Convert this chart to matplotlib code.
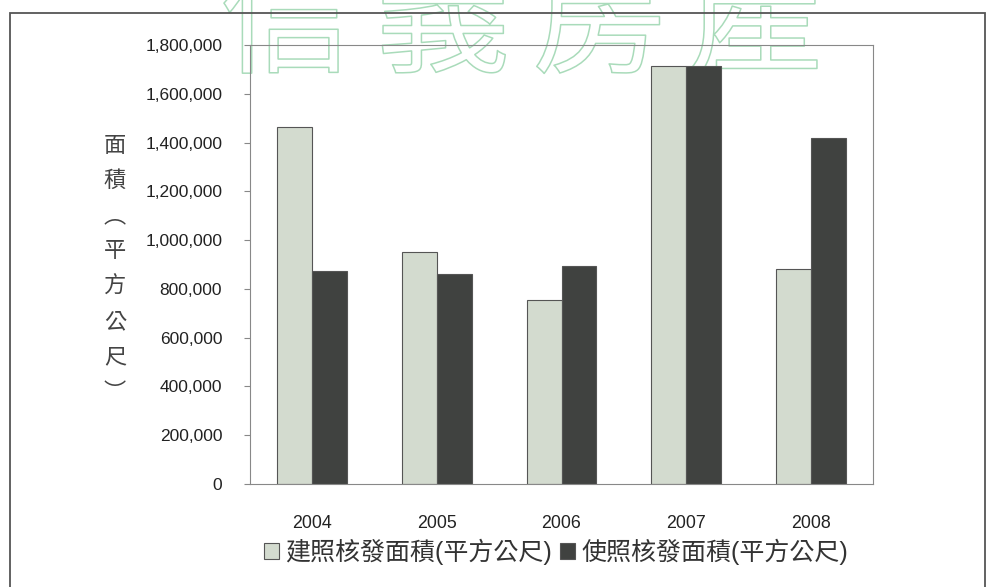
import numpy as np
import matplotlib
matplotlib.use('Agg')
import matplotlib.pyplot as plt
import matplotlib.patheffects as pe
from matplotlib.patches import Rectangle, Patch
from matplotlib.ticker import FuncFormatter

# Data
years = ['2004', '2005', '2006', '2007', '2008']
build_area = [1465000, 950000, 755000, 1715000, 880000]   # 建照核發面積
use_area = [875000, 862000, 895000, 1715000, 1418000]     # 使照核發面積
series_names = ['建照核發面積(平方公尺)', '使照核發面積(平方公尺)']
ylabel_chars = ['面', '積', '︵', '平', '方', '公', '尺', '︶']
watermark = '信義房產'
yticks = np.arange(0, 1800001, 200000)

LIGHT = '#d3dbcf'
DARK = '#404240'
EDGE = '#555555'

plt.rcParams['font.family'] = ['Liberation Sans', 'Noto Sans CJK TC', 'DejaVu Sans']

fig = plt.figure(figsize=(9.89, 5.87), dpi=100)
ax = fig.add_axes([250 / 989, 103 / 587, 623 / 989, 439 / 587])
ax.set_facecolor('none')

x = np.arange(len(years))
w = 0.28
ax.bar(x - w / 2, build_area, width=w, color=LIGHT, edgecolor=EDGE, linewidth=0.8)
ax.bar(x + w / 2, use_area, width=w, color=DARK, edgecolor=EDGE, linewidth=0.8)

ax.set_xlim(-0.5, len(years) - 0.5)
ax.set_ylim(0, 1800000)
ax.set_yticks(yticks)
ax.yaxis.set_major_formatter(FuncFormatter(lambda v, p: f'{int(v):,}'))
ax.set_xticks(x)
ax.set_xticklabels(years)
ax.tick_params(axis='y', length=4, width=0.8, color='#888888', pad=16,
               labelsize=12.5, labelcolor='#222222')
ax.tick_params(axis='x', length=0, pad=22, labelsize=12.8, labelcolor='#222222')
for s in ax.spines.values():
    s.set_color('#888888')
    s.set_linewidth(0.8)

# vertical y-axis label, one character per line
for i, ch in enumerate(ylabel_chars):
    fig.text(115 / 989, 1 - (145 + i * 35.3) / 587, ch, ha='center', va='center',
             fontsize=16, color='#444444', family='Noto Sans CJK TC')

# legend
handles = [Patch(facecolor=LIGHT, edgecolor=EDGE, linewidth=0.8),
           Patch(facecolor=DARK, edgecolor=EDGE, linewidth=0.8)]
fig.legend(handles, series_names, loc='center', bbox_to_anchor=(556 / 989, 1 - 552 / 587),
           ncol=2, frameon=False, fontsize=18, handlelength=0.6, handleheight=0.6,
           handletextpad=0.25, columnspacing=0.3, labelcolor='#333333')

# outer frame
fig.patches.append(Rectangle((10 / 989, -0.01), 975 / 989, 1 - 13 / 587 + 0.01,
                             transform=fig.transFigure, fill=False,
                             edgecolor='#555555', linewidth=1.3))

# watermark, drawn under the chart lines (cut at the top edge as in the scan)
for i, ch in enumerate(watermark):
    fig.text((287 + i * 156) / 989, 1 - 24 / 587, ch, ha='center', va='center',
             fontsize=97, color='none', family='Noto Sans CJK TC', zorder=-1,
             path_effects=[pe.withStroke(linewidth=1.1, foreground='#a9dbba')])

fig.savefig('out.png', dpi=100)
